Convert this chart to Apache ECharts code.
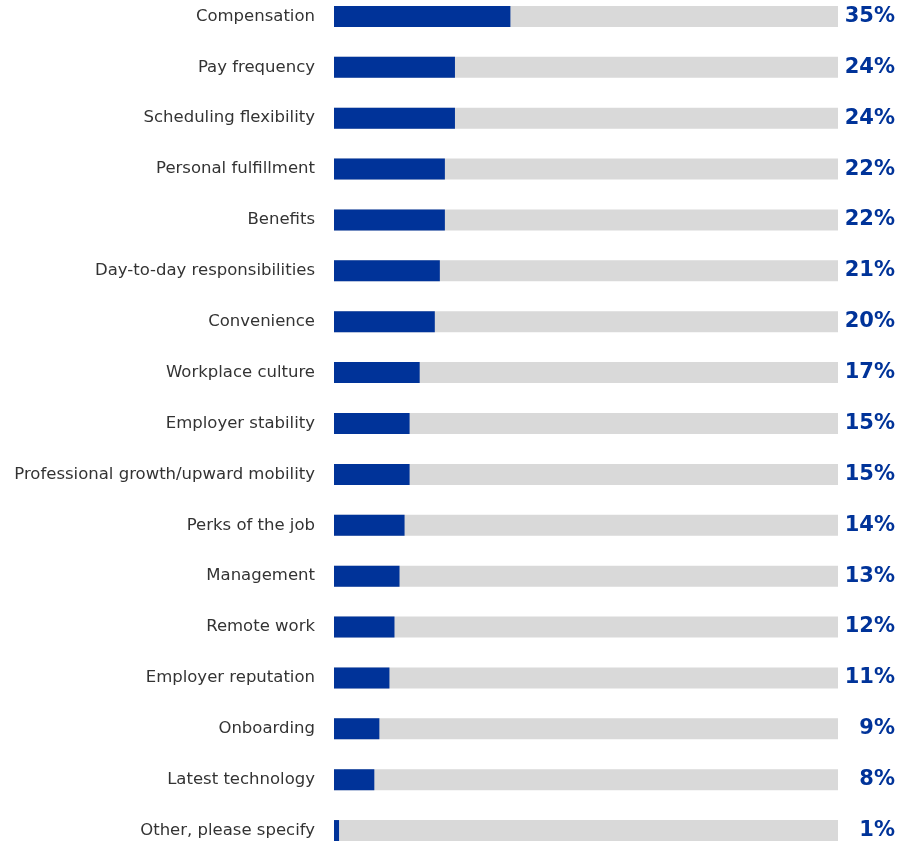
<!DOCTYPE html>
<html>
<head>
<meta charset="utf-8">
<style>
  html, body { margin: 0; padding: 0; background: #ffffff; overflow: hidden; }
  #chart { position: absolute; left: 0; top: -9px; width: 905px; height: 866px; }
</style>
<script src="https://cdn.jsdelivr.net/npm/echarts@6/dist/echarts.min.js"></script>
</head>
<body>
<div id="chart"></div>
<script>
// Factors people rank as important in a job (share of respondents, %)
const categories = [
  'Compensation',
  'Pay frequency',
  'Scheduling flexibility',
  'Personal fulfillment',
  'Benefits',
  'Day-to-day responsibilities',
  'Convenience',
  'Workplace culture',
  'Employer stability',
  'Professional growth/upward mobility',
  'Perks of the job',
  'Management',
  'Remote work',
  'Employer reputation',
  'Onboarding',
  'Latest technology',
  'Other, please specify'
];
const shares = [35, 24, 24, 22, 22, 21, 20, 17, 15, 15, 14, 13, 12, 11, 9, 8, 1];
const scaleMax = 100;

const chart = echarts.init(document.getElementById('chart'), null, { renderer: 'canvas' });

chart.setOption({
  animation: false,
  grid: { left: 334, right: 67, top: 0, height: 865, containLabel: false },
  xAxis: {
    type: 'value', min: 0, max: scaleMax,
    show: false
  },
  yAxis: [
    {
      type: 'category', data: categories, inverse: true,
      axisLine: { show: false }, axisTick: { show: false },
      axisLabel: {
        margin: 19, color: '#333333', fontSize: 16.5,
        fontFamily: 'DejaVu Sans'
      }
    },
    {
      type: 'category', data: shares.map(v => v + '%'), inverse: true,
      position: 'right',
      axisLine: { show: false }, axisTick: { show: false },
      axisLabel: {
        margin: 57, align: 'right', color: '#003399', fontSize: 21,
        fontWeight: 'bold', fontFamily: 'DejaVu Sans'
      }
    }
  ],
  series: [{
    type: 'bar',
    data: shares,
    barWidth: 21,
    itemStyle: { color: '#003399' },
    showBackground: true,
    backgroundStyle: { color: '#d9d9d9' }
  }]
});
</script>
</body>
</html>
